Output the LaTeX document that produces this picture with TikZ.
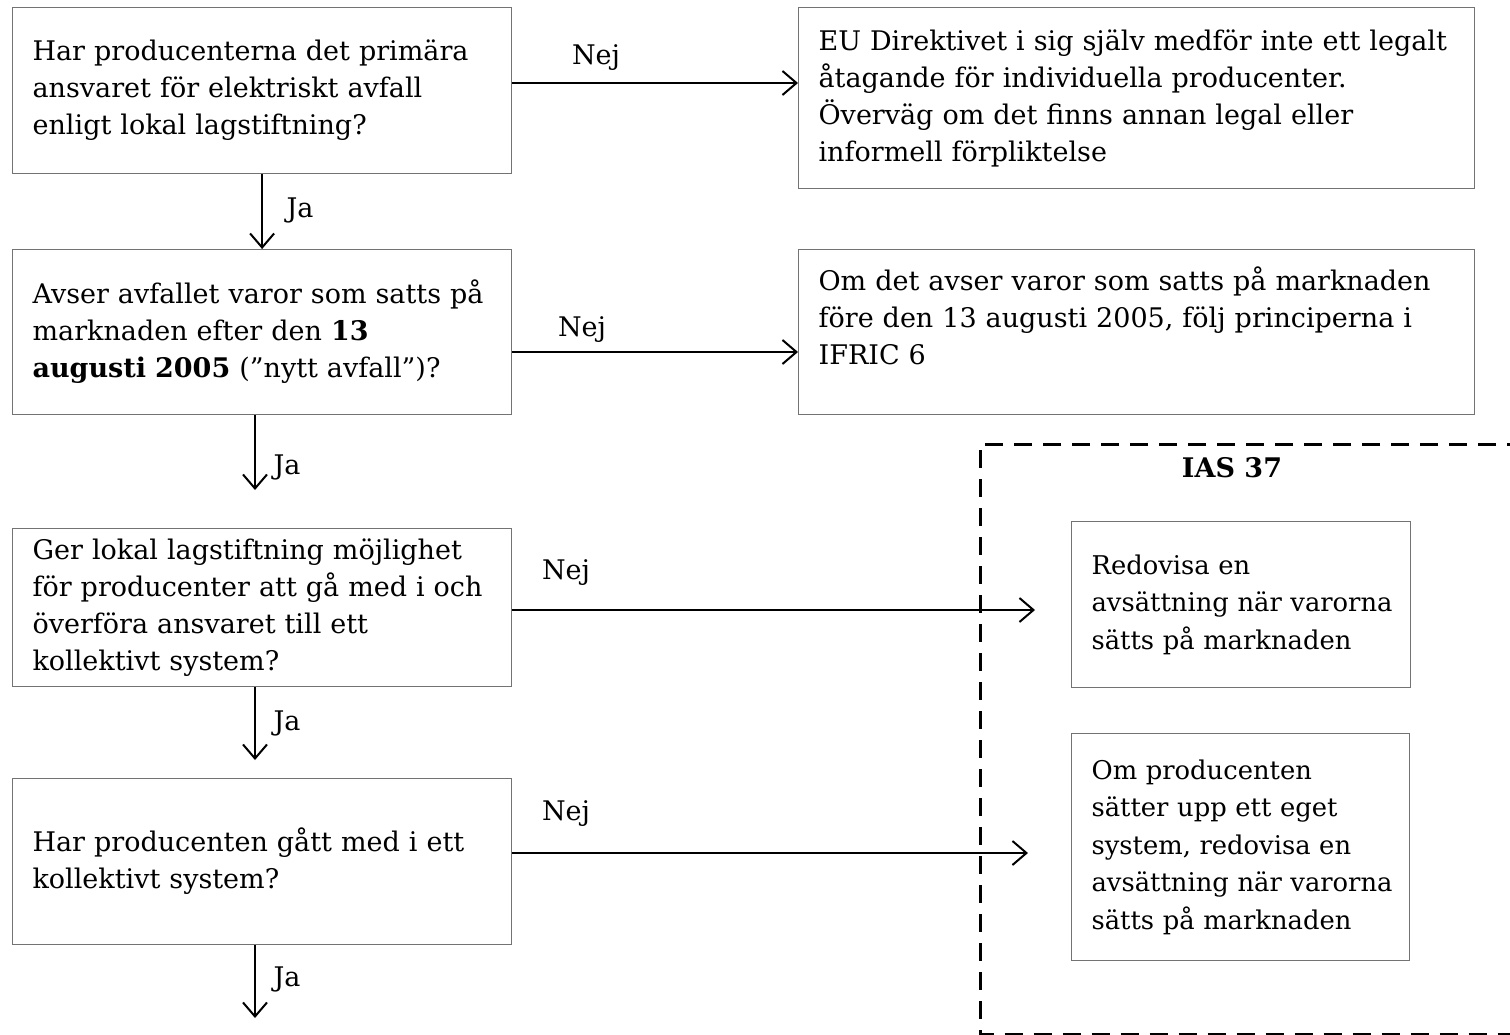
\documentclass[tikz,border=0pt]{standalone}
\usepackage{fontspec}
\setmainfont{DejaVu Serif}
\usetikzlibrary{arrows.meta,calc}
\newcommand\diagfont{\fontsize{27}{37}\selectfont}
\newcommand\narrowfont{\fontsize{25.8}{37.5}\selectfont}
\begin{document}
\begin{tikzpicture}[x=1pt,y=-1pt,
  box/.style={draw=black!55, line width=1.2pt, anchor=north west, inner xsep=20pt, inner ysep=0pt, align=left, font=\diagfont},
  arr/.style={draw=black, line width=2pt, -{Straight Barb[length=14pt,width=24pt,line width=2pt]}},
  lbl/.style={font=\diagfont, inner sep=0pt},
  dashbox/.style={draw=black, line width=3pt, dash pattern=on 18pt off 11pt}
]
\useasboundingbox (0,0) rectangle (1510,1034);
\begin{scope}
\clip (0,0) rectangle (1510,1034);
\draw[dashbox] (1525,444) -- (980,444) -- (980,1034.5) -- (1525,1034.5);
\end{scope}

\node[box, minimum width=499pt, minimum height=166pt, text width=459pt] (b1) at (12,7)
  {Har producenterna det primära\\ansvaret för elektriskt avfall\\enligt lokal lagstiftning?};
\node[box, minimum width=676pt, minimum height=181pt, text width=636pt] (b2) at (798,7)
  {EU Direktivet i sig själv medför inte ett legalt\\åtagande för individuella producenter.\\Överväg om det finns annan legal eller\\informell förpliktelse};
\node[box, minimum width=499pt, minimum height=165pt, text width=459pt] (b3) at (12,249)
  {Avser avfallet varor som satts på\\marknaden efter den \textbf{13}\\\textbf{augusti 2005} (”nytt avfall”)?};
\node[box, minimum width=676pt, minimum height=165pt, text width=636pt] (b4) at (798,249)
  {Om det avser varor som satts på marknaden\\före den 13 augusti 2005, följ principerna i\\IFRIC 6\\[-4pt]\mbox{}};
\node[box, minimum width=499pt, minimum height=158pt, text width=459pt] (b5) at (12,528)
  {Ger lokal lagstiftning möjlighet\\för producenter att gå med i och\\överföra ansvaret till ett\\kollektivt system?};
\node[box, minimum width=499pt, minimum height=166pt, text width=459pt] (b6) at (12,778)
  {Har producenten gått med i ett\\kollektivt system?};
\node[box, font=\narrowfont, minimum width=339pt, minimum height=166pt, text width=299pt] (b7) at (1071,521)
  {Redovisa en\\\mbox{avsättning när varorna}\\\mbox{sätts på marknaden}};
\node[box, font=\narrowfont, minimum width=338pt, minimum height=227pt, text width=298pt] (b8) at (1071,733)
  {Om producenten\\sätter upp ett eget\\system, redovisa en\\\mbox{avsättning när varorna}\\\mbox{sätts på marknaden}};

\node[lbl, font=\diagfont\bfseries] (ias) at (1232,468) {IAS 37};

% Nej arrows
\draw[arr] ($(b1.north east)+(0,76)$) -- ($(b2.north west)+(0,76)$);
\node[lbl] (n1) at (596,58) {Nej};
\draw[arr] ($(b3.north east)+(0,103)$) -- ($(b4.north west)+(0,103)$);
\node[lbl] (n2) at (582,330) {Nej};
\draw[arr, shorten >=36pt] ($(b5.north east)+(0,82)$) -- ($(b7.north west)+(0,89)$);
\node[lbl] (n3) at (566,573) {Nej};
\draw[arr, shorten >=43pt] ($(b6.north east)+(0,75)$) -- ($(b8.north west)+(0,120)$);
\node[lbl] (n4) at (566,814) {Nej};

% Ja arrows
\coordinate (j2) at (255,490);
\coordinate (j3) at (255,760);
\coordinate (j4) at (255,1018);
\draw[arr] (b1.south) -- (b3.north);
\node[lbl] (y1) at (300,210) {Ja};
\draw[arr] (b3.south -| j2) -- (j2);
\node[lbl] (y2) at (287,467) {Ja};
\draw[arr] (b5.south -| j3) -- (j3);
\node[lbl] (y3) at (287,723) {Ja};
\draw[arr] (b6.south -| j4) -- (j4);
\node[lbl] (y4) at (287,979) {Ja};
\end{tikzpicture}
\end{document}
